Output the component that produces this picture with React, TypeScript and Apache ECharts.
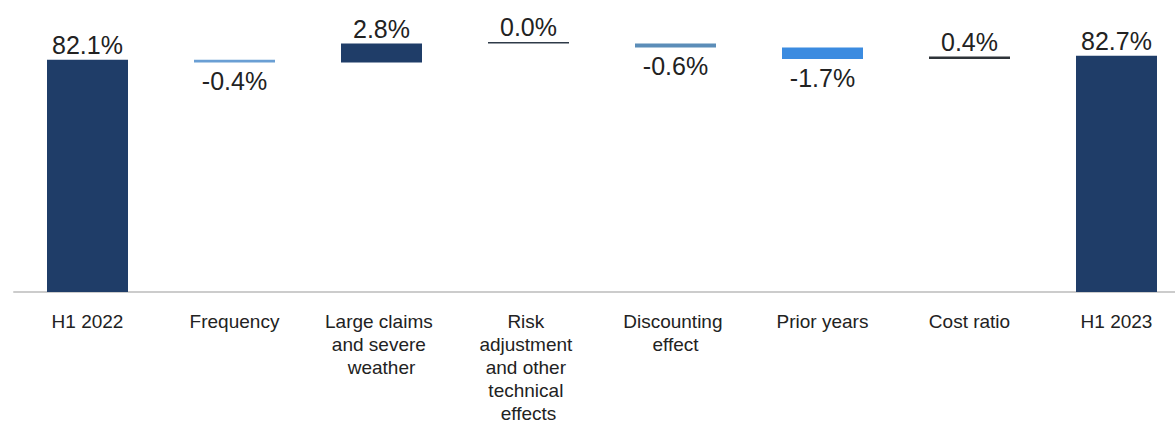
import React, { useEffect, useRef } from "react";
import * as echarts from "echarts";

// ---- data ----
const categories: string[] = [
  "H1 2022",
  "Frequency",
  "Large claims and severe weather",
  "Risk adjustment and other technical effects",
  "Discounting effect",
  "Prior years",
  "Cost ratio",
  "H1 2023",
];
const startTotal = 82.1;
const deltas: number[] = [-0.4, 2.8, 0.0, -0.6, -1.7, 0.4];
const endTotal = 82.7;

// ---- styles ----
const totalColor = "#1f3d68";
const deltaColors: string[] = ["#6a9fd4", "#1f3d68", "#2e3a48", "#5b8db8", "#3b8be0", "#2e3338"];

export default function App() {
  const ref = useRef<HTMLDivElement>(null);

  useEffect(() => {
    if (!ref.current) return;
    const chart = echarts.init(ref.current, undefined, { renderer: "svg" });

    const baseVals: number[] = [0];
    const barVals: any[] = [];
    const labelFmt = (v: number) => `${v.toFixed(1)}%`;

    barVals.push({
      value: startTotal,
      itemStyle: { color: totalColor },
      label: { position: "top", formatter: labelFmt(startTotal) },
    });
    let running = startTotal;
    deltas.forEach((d, i) => {
      const next = running + d;
      baseVals.push(Math.min(running, next));
      barVals.push({
        value: Math.abs(d),
        itemStyle: { color: deltaColors[i] },
        label: {
          position: d < 0 ? "bottom" : "top",
          distance: d < 0 ? 6 : 2,
          formatter: labelFmt(d),
        },
      });
      running = next;
    });
    baseVals.push(0);
    barVals.push({
      value: endTotal,
      itemStyle: { color: totalColor },
      label: { position: "top", formatter: labelFmt(endTotal) },
    });

    chart.setOption({
      animation: false,
      grid: { left: 14, right: 2, top: 6, bottom: 140, containLabel: false },
      xAxis: {
        type: "category",
        data: categories,
        axisLine: { show: true, lineStyle: { color: "#cccccc", width: 2 } },
        axisTick: { show: false },
        axisLabel: {
          interval: 0,
          margin: 18,
          color: "#222222",
          fontFamily: "Liberation Sans, Arial, sans-serif",
          fontSize: 19,
          lineHeight: 23,
          width: 118,
          overflow: "break",
          align: "center",
        },
      },
      yAxis: {
        type: "value",
        min: 48,
        max: 90,
        show: false,
        splitLine: { show: false },
      },
      series: [
        {
          type: "bar",
          stack: "wf",
          data: baseVals,
          barWidth: 81,
          itemStyle: { color: "transparent" },
          emphasis: { disabled: true },
          silent: true,
        },
        {
          type: "bar",
          stack: "wf",
          data: barVals,
          barWidth: 81,
          barMinHeight: 1.5,
          label: {
            show: true,
            color: "#222222",
            fontFamily: "Liberation Sans, Arial, sans-serif",
            fontSize: 25,
            distance: 2,
          },
        },
      ],
    });

    return () => chart.dispose();
  }, []);

  return (
    <div
      style={{ position: "absolute", left: 0, top: 0, width: 1175, height: 432, overflow: "hidden", background: "#ffffff" }}
    >
      <div ref={ref} style={{ position: "absolute", left: 0, top: 0, width: 1192, height: 432 }} />
    </div>
  );
}
